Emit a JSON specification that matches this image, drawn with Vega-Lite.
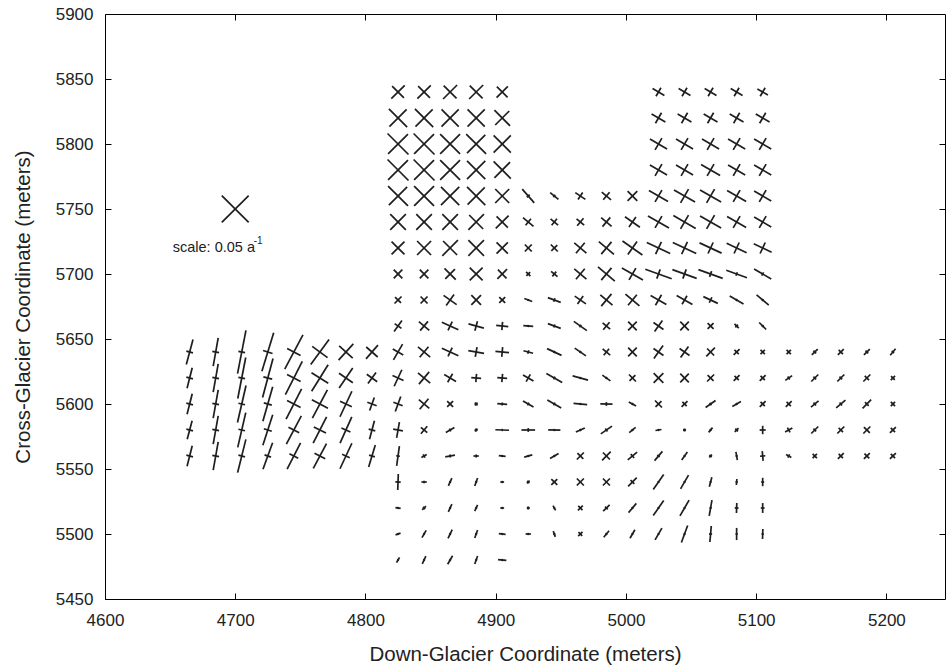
{
"$schema": "https://vega.github.io/schema/vega-lite/v6.json",
"width": 840, "height": 585,
"autosize": {"type": "none"},
"padding": {"left": 105, "top": 14, "right": 4, "bottom": 71},
"background": "white",
"config": {
  "view": {"stroke": "black", "strokeWidth": 1},
  "axis": {"labelFont": "Liberation Sans", "titleFont": "Liberation Sans", "labelFontSize": 17, "titleFontSize": 20.5, "titleFontWeight": "normal", "labelColor": "#222", "titleColor": "#222", "domain": false, "tickColor": "black", "tickSize": 6, "offset": -6, "grid": false, "format": "d", "labelFlush": false, "labelOverlap": false}
},
"resolve": {"axis": {"x": "independent", "y": "independent"}},
"data": {"values": [
{"x":4700,"y":5750,"a1":45,"e1":0.05,"a2":135,"e2":0.05},
{"x":4665,"y":5640,"a1":75,"e1":0.034,"a2":165,"e2":0.009},
{"x":4685,"y":5640,"a1":80,"e1":0.038,"a2":170,"e2":0.009},
{"x":4705,"y":5640,"a1":79,"e1":0.058,"a2":169,"e2":0.009},
{"x":4725,"y":5640,"a1":73,"e1":0.053,"a2":163,"e2":0.013},
{"x":4745,"y":5640,"a1":62,"e1":0.051,"a2":152,"e2":0.020},
{"x":4765,"y":5640,"a1":54,"e1":0.041,"a2":144,"e2":0.025},
{"x":4785,"y":5640,"a1":48,"e1":0.029,"a2":138,"e2":0.024},
{"x":4805,"y":5640,"a1":49,"e1":0.024,"a2":139,"e2":0.020},
{"x":4665,"y":5620,"a1":76,"e1":0.028,"a2":166,"e2":0.009},
{"x":4685,"y":5620,"a1":80,"e1":0.038,"a2":170,"e2":0.009},
{"x":4705,"y":5620,"a1":79,"e1":0.055,"a2":169,"e2":0.009},
{"x":4725,"y":5620,"a1":75,"e1":0.053,"a2":165,"e2":0.012},
{"x":4745,"y":5620,"a1":63,"e1":0.049,"a2":153,"e2":0.020},
{"x":4765,"y":5620,"a1":58,"e1":0.041,"a2":148,"e2":0.026},
{"x":4785,"y":5620,"a1":56,"e1":0.032,"a2":146,"e2":0.022},
{"x":4805,"y":5620,"a1":54,"e1":0.018,"a2":144,"e2":0.017},
{"x":4665,"y":5600,"a1":76,"e1":0.028,"a2":166,"e2":0.009},
{"x":4685,"y":5600,"a1":80,"e1":0.038,"a2":170,"e2":0.009},
{"x":4705,"y":5600,"a1":77,"e1":0.050,"a2":167,"e2":0.009},
{"x":4725,"y":5600,"a1":74,"e1":0.047,"a2":164,"e2":0.011},
{"x":4745,"y":5600,"a1":63,"e1":0.045,"a2":153,"e2":0.020},
{"x":4765,"y":5600,"a1":62,"e1":0.042,"a2":152,"e2":0.024},
{"x":4785,"y":5600,"a1":65,"e1":0.037,"a2":155,"e2":0.017},
{"x":4805,"y":5600,"a1":70,"e1":0.018,"a2":160,"e2":0.013},
{"x":4665,"y":5580,"a1":75,"e1":0.025,"a2":165,"e2":0.009},
{"x":4685,"y":5580,"a1":80,"e1":0.038,"a2":170,"e2":0.009},
{"x":4705,"y":5580,"a1":77,"e1":0.047,"a2":167,"e2":0.009},
{"x":4725,"y":5580,"a1":72,"e1":0.042,"a2":162,"e2":0.011},
{"x":4745,"y":5580,"a1":62,"e1":0.042,"a2":152,"e2":0.016},
{"x":4765,"y":5580,"a1":63,"e1":0.039,"a2":153,"e2":0.018},
{"x":4785,"y":5580,"a1":66,"e1":0.038,"a2":156,"e2":0.013},
{"x":4805,"y":5580,"a1":75,"e1":0.025,"a2":165,"e2":0.009},
{"x":4665,"y":5560,"a1":76,"e1":0.028,"a2":166,"e2":0.009},
{"x":4685,"y":5560,"a1":80,"e1":0.038,"a2":170,"e2":0.009},
{"x":4705,"y":5560,"a1":76,"e1":0.045,"a2":166,"e2":0.009},
{"x":4725,"y":5560,"a1":70,"e1":0.037,"a2":160,"e2":0.009},
{"x":4745,"y":5560,"a1":63,"e1":0.039,"a2":153,"e2":0.013},
{"x":4765,"y":5560,"a1":62,"e1":0.037,"a2":152,"e2":0.016},
{"x":4785,"y":5560,"a1":65,"e1":0.037,"a2":155,"e2":0.011},
{"x":4805,"y":5560,"a1":73,"e1":0.030,"a2":163,"e2":0.008},
{"x":4825,"y":5840,"a1":45,"e1":0.025,"a2":135,"e2":0.022},
{"x":4845,"y":5840,"a1":45,"e1":0.025,"a2":135,"e2":0.022},
{"x":4865,"y":5840,"a1":45,"e1":0.026,"a2":135,"e2":0.024},
{"x":4885,"y":5840,"a1":45,"e1":0.026,"a2":135,"e2":0.024},
{"x":4905,"y":5840,"a1":45,"e1":0.021,"a2":135,"e2":0.020},
{"x":4825,"y":5820,"a1":45,"e1":0.032,"a2":135,"e2":0.034},
{"x":4845,"y":5820,"a1":45,"e1":0.032,"a2":135,"e2":0.034},
{"x":4865,"y":5820,"a1":45,"e1":0.032,"a2":135,"e2":0.032},
{"x":4885,"y":5820,"a1":45,"e1":0.032,"a2":135,"e2":0.032},
{"x":4905,"y":5820,"a1":45,"e1":0.026,"a2":135,"e2":0.029},
{"x":4825,"y":5800,"a1":45,"e1":0.037,"a2":135,"e2":0.039},
{"x":4845,"y":5800,"a1":45,"e1":0.037,"a2":135,"e2":0.039},
{"x":4865,"y":5800,"a1":45,"e1":0.037,"a2":135,"e2":0.037},
{"x":4885,"y":5800,"a1":45,"e1":0.034,"a2":135,"e2":0.037},
{"x":4905,"y":5800,"a1":45,"e1":0.032,"a2":135,"e2":0.032},
{"x":4825,"y":5780,"a1":45,"e1":0.037,"a2":135,"e2":0.039},
{"x":4845,"y":5780,"a1":45,"e1":0.037,"a2":135,"e2":0.039},
{"x":4865,"y":5780,"a1":45,"e1":0.037,"a2":135,"e2":0.037},
{"x":4885,"y":5780,"a1":45,"e1":0.034,"a2":135,"e2":0.034},
{"x":4905,"y":5780,"a1":45,"e1":0.029,"a2":135,"e2":0.032},
{"x":4825,"y":5760,"a1":45,"e1":0.034,"a2":135,"e2":0.037},
{"x":4845,"y":5760,"a1":45,"e1":0.037,"a2":135,"e2":0.037},
{"x":4865,"y":5760,"a1":45,"e1":0.034,"a2":135,"e2":0.034},
{"x":4885,"y":5760,"a1":45,"e1":0.032,"a2":135,"e2":0.034},
{"x":4905,"y":5760,"a1":45,"e1":0.026,"a2":135,"e2":0.026},
{"x":4825,"y":5740,"a1":45,"e1":0.029,"a2":135,"e2":0.029},
{"x":4845,"y":5740,"a1":45,"e1":0.029,"a2":135,"e2":0.029},
{"x":4865,"y":5740,"a1":45,"e1":0.029,"a2":135,"e2":0.029},
{"x":4885,"y":5740,"a1":45,"e1":0.029,"a2":135,"e2":0.026},
{"x":4905,"y":5740,"a1":45,"e1":0.024,"a2":135,"e2":0.021},
{"x":4825,"y":5720,"a1":45,"e1":0.024,"a2":135,"e2":0.024},
{"x":4845,"y":5720,"a1":45,"e1":0.026,"a2":135,"e2":0.026},
{"x":4865,"y":5720,"a1":45,"e1":0.029,"a2":135,"e2":0.026},
{"x":4885,"y":5720,"a1":45,"e1":0.029,"a2":135,"e2":0.029},
{"x":4905,"y":5720,"a1":45,"e1":0.021,"a2":135,"e2":0.021},
{"x":4825,"y":5700,"a1":45,"e1":0.016,"a2":135,"e2":0.016},
{"x":4845,"y":5700,"a1":45,"e1":0.016,"a2":135,"e2":0.016},
{"x":4865,"y":5700,"a1":45,"e1":0.018,"a2":135,"e2":0.021},
{"x":4885,"y":5700,"a1":45,"e1":0.024,"a2":135,"e2":0.024},
{"x":4905,"y":5700,"a1":45,"e1":0.018,"a2":135,"e2":0.016},
{"x":4825,"y":5680,"a1":45,"e1":0.013,"a2":135,"e2":0.011},
{"x":4845,"y":5680,"a1":45,"e1":0.013,"a2":135,"e2":0.013},
{"x":4865,"y":5680,"a1":55,"e1":0.018,"a2":145,"e2":0.021},
{"x":4885,"y":5680,"a1":45,"e1":0.018,"a2":135,"e2":0.018},
{"x":4905,"y":5680,"a1":45,"e1":0.011,"a2":135,"e2":0.011},
{"x":4825,"y":5660,"a1":55,"e1":0.018,"a2":145,"e2":0.011},
{"x":4845,"y":5660,"a1":50,"e1":0.016,"a2":140,"e2":0.018},
{"x":4865,"y":5660,"a1":65,"e1":0.013,"a2":155,"e2":0.024},
{"x":4885,"y":5660,"a1":75,"e1":0.013,"a2":165,"e2":0.021},
{"x":4905,"y":5660,"a1":85,"e1":0.011,"a2":175,"e2":0.016},
{"x":4825,"y":5640,"a1":60,"e1":0.024,"a2":150,"e2":0.016},
{"x":4845,"y":5640,"a1":50,"e1":0.018,"a2":140,"e2":0.021},
{"x":4865,"y":5640,"a1":65,"e1":0.013,"a2":155,"e2":0.024},
{"x":4885,"y":5640,"a1":80,"e1":0.013,"a2":170,"e2":0.021},
{"x":4905,"y":5640,"a1":85,"e1":0.013,"a2":175,"e2":0.018},
{"x":4825,"y":5620,"a1":65,"e1":0.024,"a2":155,"e2":0.016},
{"x":4845,"y":5620,"a1":50,"e1":0.021,"a2":140,"e2":0.021},
{"x":4865,"y":5620,"a1":60,"e1":0.013,"a2":150,"e2":0.018},
{"x":4885,"y":5620,"a1":85,"e1":0.011,"a2":175,"e2":0.013},
{"x":4905,"y":5620,"a1":85,"e1":0.011,"a2":175,"e2":0.013},
{"x":4825,"y":5600,"a1":70,"e1":0.021,"a2":160,"e2":0.013},
{"x":4845,"y":5600,"a1":50,"e1":0.018,"a2":140,"e2":0.018},
{"x":4865,"y":5600,"a1":45,"e1":0.011,"a2":135,"e2":0.011},
{"x":4885,"y":5600,"a1":45,"e1":0.005,"a2":135,"e2":0.005},
{"x":4905,"y":5600,"a1":85,"e1":0.004,"a2":175,"e2":0.013},
{"x":4825,"y":5580,"a1":80,"e1":0.021,"a2":170,"e2":0.013},
{"x":4845,"y":5580,"a1":50,"e1":0.013,"a2":140,"e2":0.011},
{"x":4865,"y":5580,"a1":30,"e1":0.013,"a2":120,"e2":0.004},
{"x":4885,"y":5580,"a1":45,"e1":0.005,"a2":135,"e2":0.004},
{"x":4905,"y":5580,"a1":88,"e1":0.003,"a2":178,"e2":0.018},
{"x":4825,"y":5560,"a1":82,"e1":0.026,"a2":172,"e2":0.005},
{"x":4845,"y":5560,"a1":30,"e1":0.008,"a2":120,"e2":0.005},
{"x":4865,"y":5560,"a1":10,"e1":0.013,"a2":100,"e2":0.004},
{"x":4885,"y":5560,"a1":0,"e1":0.007,"a2":90,"e2":0.004},
{"x":4905,"y":5560,"a1":175,"e1":0.009,"a2":85,"e2":0.003},
{"x":4825,"y":5540,"a1":88,"e1":0.021,"a2":178,"e2":0.007},
{"x":4845,"y":5540,"a1":0,"e1":0.007,"a2":90,"e2":0.003},
{"x":4865,"y":5540,"a1":65,"e1":0.011,"a2":155,"e2":0.003},
{"x":4885,"y":5540,"a1":70,"e1":0.011,"a2":160,"e2":0.003},
{"x":4905,"y":5540,"a1":0,"e1":0.005,"a2":90,"e2":0.003},
{"x":4825,"y":5520,"a1":170,"e1":0.007,"a2":80,"e2":0.003},
{"x":4845,"y":5520,"a1":45,"e1":0.007,"a2":135,"e2":0.004},
{"x":4865,"y":5520,"a1":65,"e1":0.011,"a2":155,"e2":0.003},
{"x":4885,"y":5520,"a1":65,"e1":0.009,"a2":155,"e2":0.003},
{"x":4905,"y":5520,"a1":0,"e1":0.005,"a2":90,"e2":0.003},
{"x":4825,"y":5500,"a1":20,"e1":0.007,"a2":110,"e2":0.003},
{"x":4845,"y":5500,"a1":60,"e1":0.011,"a2":150,"e2":0.003},
{"x":4865,"y":5500,"a1":65,"e1":0.013,"a2":155,"e2":0.003},
{"x":4885,"y":5500,"a1":70,"e1":0.011,"a2":160,"e2":0.003},
{"x":4905,"y":5500,"a1":175,"e1":0.009,"a2":85,"e2":0.003},
{"x":4825,"y":5480,"a1":60,"e1":0.008,"a2":150,"e2":0.003},
{"x":4845,"y":5480,"a1":65,"e1":0.011,"a2":155,"e2":0.003},
{"x":4865,"y":5480,"a1":60,"e1":0.013,"a2":150,"e2":0.003},
{"x":4885,"y":5480,"a1":70,"e1":0.011,"a2":160,"e2":0.003},
{"x":4905,"y":5480,"a1":175,"e1":0.011,"a2":85,"e2":0.003},
{"x":4925,"y":5760,"a1":131,"e1":0.024,"a2":41,"e2":0.005},
{"x":4945,"y":5760,"a1":141,"e1":0.014,"a2":51,"e2":0.004},
{"x":4965,"y":5760,"a1":146,"e1":0.016,"a2":56,"e2":0.011},
{"x":4985,"y":5760,"a1":140,"e1":0.016,"a2":50,"e2":0.013},
{"x":5005,"y":5760,"a1":135,"e1":0.018,"a2":45,"e2":0.018},
{"x":4925,"y":5740,"a1":140,"e1":0.018,"a2":50,"e2":0.011},
{"x":4945,"y":5740,"a1":140,"e1":0.013,"a2":50,"e2":0.011},
{"x":4965,"y":5740,"a1":140,"e1":0.013,"a2":50,"e2":0.013},
{"x":4985,"y":5740,"a1":140,"e1":0.018,"a2":50,"e2":0.016},
{"x":5005,"y":5740,"a1":145,"e1":0.024,"a2":55,"e2":0.016},
{"x":4925,"y":5720,"a1":135,"e1":0.013,"a2":45,"e2":0.013},
{"x":4945,"y":5720,"a1":135,"e1":0.013,"a2":45,"e2":0.011},
{"x":4965,"y":5720,"a1":140,"e1":0.021,"a2":50,"e2":0.018},
{"x":4985,"y":5720,"a1":140,"e1":0.026,"a2":50,"e2":0.021},
{"x":5005,"y":5720,"a1":145,"e1":0.032,"a2":55,"e2":0.021},
{"x":4925,"y":5700,"a1":135,"e1":0.008,"a2":45,"e2":0.007},
{"x":4945,"y":5700,"a1":140,"e1":0.011,"a2":50,"e2":0.008},
{"x":4965,"y":5700,"a1":140,"e1":0.021,"a2":50,"e2":0.018},
{"x":4985,"y":5700,"a1":140,"e1":0.029,"a2":50,"e2":0.021},
{"x":5005,"y":5700,"a1":150,"e1":0.032,"a2":60,"e2":0.018},
{"x":4925,"y":5680,"a1":160,"e1":0.011,"a2":70,"e2":0.003},
{"x":4945,"y":5680,"a1":160,"e1":0.018,"a2":70,"e2":0.005},
{"x":4965,"y":5680,"a1":145,"e1":0.018,"a2":55,"e2":0.013},
{"x":4985,"y":5680,"a1":140,"e1":0.021,"a2":50,"e2":0.021},
{"x":5005,"y":5680,"a1":140,"e1":0.024,"a2":50,"e2":0.018},
{"x":4925,"y":5660,"a1":175,"e1":0.013,"a2":85,"e2":0.003},
{"x":4945,"y":5660,"a1":160,"e1":0.018,"a2":70,"e2":0.004},
{"x":4965,"y":5660,"a1":145,"e1":0.021,"a2":55,"e2":0.004},
{"x":4985,"y":5660,"a1":140,"e1":0.013,"a2":50,"e2":0.013},
{"x":5005,"y":5660,"a1":135,"e1":0.016,"a2":45,"e2":0.016},
{"x":4925,"y":5640,"a1":165,"e1":0.013,"a2":75,"e2":0.005},
{"x":4945,"y":5640,"a1":155,"e1":0.021,"a2":65,"e2":0.003},
{"x":4965,"y":5640,"a1":145,"e1":0.018,"a2":55,"e2":0.003},
{"x":4985,"y":5640,"a1":140,"e1":0.013,"a2":50,"e2":0.011},
{"x":5005,"y":5640,"a1":135,"e1":0.016,"a2":45,"e2":0.016},
{"x":4925,"y":5620,"a1":150,"e1":0.016,"a2":60,"e2":0.011},
{"x":4945,"y":5620,"a1":150,"e1":0.024,"a2":60,"e2":0.004},
{"x":4965,"y":5620,"a1":165,"e1":0.021,"a2":75,"e2":0.003},
{"x":4985,"y":5620,"a1":145,"e1":0.013,"a2":55,"e2":0.003},
{"x":5005,"y":5620,"a1":135,"e1":0.013,"a2":45,"e2":0.011},
{"x":4925,"y":5600,"a1":150,"e1":0.016,"a2":60,"e2":0.004},
{"x":4945,"y":5600,"a1":150,"e1":0.021,"a2":60,"e2":0.004},
{"x":4965,"y":5600,"a1":175,"e1":0.018,"a2":85,"e2":0.003},
{"x":4985,"y":5600,"a1":178,"e1":0.016,"a2":88,"e2":0.005},
{"x":5005,"y":5600,"a1":150,"e1":0.011,"a2":60,"e2":0.003},
{"x":4925,"y":5580,"a1":180,"e1":0.018,"a2":90,"e2":0.005},
{"x":4945,"y":5580,"a1":178,"e1":0.016,"a2":88,"e2":0.003},
{"x":4965,"y":5580,"a1":25,"e1":0.013,"a2":115,"e2":0.003},
{"x":4985,"y":5580,"a1":35,"e1":0.018,"a2":125,"e2":0.005},
{"x":5005,"y":5580,"a1":40,"e1":0.011,"a2":130,"e2":0.003},
{"x":4925,"y":5560,"a1":15,"e1":0.011,"a2":105,"e2":0.003},
{"x":4945,"y":5560,"a1":30,"e1":0.013,"a2":120,"e2":0.003},
{"x":4965,"y":5560,"a1":45,"e1":0.013,"a2":135,"e2":0.011},
{"x":4985,"y":5560,"a1":45,"e1":0.016,"a2":135,"e2":0.013},
{"x":5005,"y":5560,"a1":40,"e1":0.016,"a2":130,"e2":0.007},
{"x":4925,"y":5540,"a1":45,"e1":0.005,"a2":135,"e2":0.004},
{"x":4945,"y":5540,"a1":45,"e1":0.011,"a2":135,"e2":0.011},
{"x":4965,"y":5540,"a1":45,"e1":0.013,"a2":135,"e2":0.013},
{"x":4985,"y":5540,"a1":45,"e1":0.013,"a2":135,"e2":0.013},
{"x":5005,"y":5540,"a1":45,"e1":0.016,"a2":135,"e2":0.007},
{"x":4925,"y":5520,"a1":45,"e1":0.004,"a2":135,"e2":0.004},
{"x":4945,"y":5520,"a1":120,"e1":0.007,"a2":30,"e2":0.003},
{"x":4965,"y":5520,"a1":45,"e1":0.009,"a2":135,"e2":0.008},
{"x":4985,"y":5520,"a1":45,"e1":0.012,"a2":135,"e2":0.005},
{"x":5005,"y":5520,"a1":50,"e1":0.016,"a2":140,"e2":0.003},
{"x":4925,"y":5500,"a1":0,"e1":0.007,"a2":90,"e2":0.003},
{"x":4945,"y":5500,"a1":110,"e1":0.008,"a2":20,"e2":0.003},
{"x":4965,"y":5500,"a1":45,"e1":0.008,"a2":135,"e2":0.007},
{"x":4985,"y":5500,"a1":50,"e1":0.011,"a2":140,"e2":0.003},
{"x":5005,"y":5500,"a1":60,"e1":0.013,"a2":150,"e2":0.003},
{"x":5025,"y":5840,"a1":150,"e1":0.018,"a2":60,"e2":0.013},
{"x":5045,"y":5840,"a1":150,"e1":0.018,"a2":60,"e2":0.013},
{"x":5065,"y":5840,"a1":150,"e1":0.018,"a2":60,"e2":0.013},
{"x":5085,"y":5840,"a1":150,"e1":0.018,"a2":60,"e2":0.013},
{"x":5105,"y":5840,"a1":150,"e1":0.016,"a2":60,"e2":0.013},
{"x":5025,"y":5820,"a1":150,"e1":0.021,"a2":60,"e2":0.016},
{"x":5045,"y":5820,"a1":150,"e1":0.021,"a2":60,"e2":0.016},
{"x":5065,"y":5820,"a1":150,"e1":0.021,"a2":60,"e2":0.016},
{"x":5085,"y":5820,"a1":150,"e1":0.021,"a2":60,"e2":0.016},
{"x":5105,"y":5820,"a1":150,"e1":0.021,"a2":60,"e2":0.016},
{"x":5025,"y":5800,"a1":150,"e1":0.026,"a2":60,"e2":0.018},
{"x":5045,"y":5800,"a1":150,"e1":0.026,"a2":60,"e2":0.018},
{"x":5065,"y":5800,"a1":150,"e1":0.026,"a2":60,"e2":0.018},
{"x":5085,"y":5800,"a1":150,"e1":0.026,"a2":60,"e2":0.018},
{"x":5105,"y":5800,"a1":150,"e1":0.026,"a2":60,"e2":0.018},
{"x":5025,"y":5780,"a1":150,"e1":0.026,"a2":60,"e2":0.018},
{"x":5045,"y":5780,"a1":150,"e1":0.026,"a2":60,"e2":0.018},
{"x":5065,"y":5780,"a1":150,"e1":0.029,"a2":60,"e2":0.018},
{"x":5085,"y":5780,"a1":150,"e1":0.026,"a2":60,"e2":0.018},
{"x":5105,"y":5780,"a1":150,"e1":0.026,"a2":60,"e2":0.018},
{"x":5025,"y":5760,"a1":150,"e1":0.029,"a2":60,"e2":0.018},
{"x":5045,"y":5760,"a1":150,"e1":0.032,"a2":60,"e2":0.021},
{"x":5065,"y":5760,"a1":150,"e1":0.032,"a2":60,"e2":0.021},
{"x":5085,"y":5760,"a1":150,"e1":0.029,"a2":60,"e2":0.018},
{"x":5105,"y":5760,"a1":150,"e1":0.026,"a2":60,"e2":0.018},
{"x":5025,"y":5740,"a1":150,"e1":0.032,"a2":60,"e2":0.018},
{"x":5045,"y":5740,"a1":150,"e1":0.034,"a2":60,"e2":0.021},
{"x":5065,"y":5740,"a1":150,"e1":0.032,"a2":60,"e2":0.021},
{"x":5085,"y":5740,"a1":150,"e1":0.029,"a2":60,"e2":0.018},
{"x":5105,"y":5740,"a1":150,"e1":0.026,"a2":60,"e2":0.018},
{"x":5025,"y":5720,"a1":155,"e1":0.034,"a2":65,"e2":0.018},
{"x":5045,"y":5720,"a1":155,"e1":0.034,"a2":65,"e2":0.018},
{"x":5065,"y":5720,"a1":155,"e1":0.032,"a2":65,"e2":0.016},
{"x":5085,"y":5720,"a1":155,"e1":0.029,"a2":65,"e2":0.016},
{"x":5105,"y":5720,"a1":155,"e1":0.026,"a2":65,"e2":0.016},
{"x":5025,"y":5700,"a1":160,"e1":0.037,"a2":70,"e2":0.013},
{"x":5045,"y":5700,"a1":160,"e1":0.034,"a2":70,"e2":0.013},
{"x":5065,"y":5700,"a1":160,"e1":0.034,"a2":70,"e2":0.008},
{"x":5085,"y":5700,"a1":160,"e1":0.029,"a2":70,"e2":0.005},
{"x":5105,"y":5700,"a1":150,"e1":0.026,"a2":60,"e2":0.005},
{"x":5025,"y":5680,"a1":150,"e1":0.024,"a2":60,"e2":0.016},
{"x":5045,"y":5680,"a1":150,"e1":0.024,"a2":60,"e2":0.013},
{"x":5065,"y":5680,"a1":155,"e1":0.021,"a2":65,"e2":0.008},
{"x":5085,"y":5680,"a1":150,"e1":0.021,"a2":60,"e2":0.003},
{"x":5105,"y":5680,"a1":140,"e1":0.021,"a2":50,"e2":0.003},
{"x":5025,"y":5660,"a1":55,"e1":0.018,"a2":145,"e2":0.016},
{"x":5045,"y":5660,"a1":45,"e1":0.016,"a2":135,"e2":0.016},
{"x":5065,"y":5660,"a1":45,"e1":0.011,"a2":135,"e2":0.011},
{"x":5085,"y":5660,"a1":135,"e1":0.008,"a2":45,"e2":0.005},
{"x":5105,"y":5660,"a1":135,"e1":0.013,"a2":45,"e2":0.003},
{"x":5025,"y":5640,"a1":55,"e1":0.021,"a2":145,"e2":0.016},
{"x":5045,"y":5640,"a1":55,"e1":0.018,"a2":145,"e2":0.016},
{"x":5065,"y":5640,"a1":45,"e1":0.016,"a2":135,"e2":0.013},
{"x":5085,"y":5640,"a1":45,"e1":0.011,"a2":135,"e2":0.008},
{"x":5105,"y":5640,"a1":45,"e1":0.008,"a2":135,"e2":0.008},
{"x":5025,"y":5620,"a1":45,"e1":0.018,"a2":135,"e2":0.018},
{"x":5045,"y":5620,"a1":45,"e1":0.016,"a2":135,"e2":0.016},
{"x":5065,"y":5620,"a1":45,"e1":0.013,"a2":135,"e2":0.011},
{"x":5085,"y":5620,"a1":45,"e1":0.011,"a2":135,"e2":0.008},
{"x":5105,"y":5620,"a1":45,"e1":0.011,"a2":135,"e2":0.008},
{"x":5025,"y":5600,"a1":135,"e1":0.013,"a2":45,"e2":0.011},
{"x":5045,"y":5600,"a1":45,"e1":0.011,"a2":135,"e2":0.008},
{"x":5065,"y":5600,"a1":35,"e1":0.016,"a2":125,"e2":0.004},
{"x":5085,"y":5600,"a1":30,"e1":0.013,"a2":120,"e2":0.003},
{"x":5105,"y":5600,"a1":45,"e1":0.011,"a2":135,"e2":0.008},
{"x":5025,"y":5580,"a1":10,"e1":0.008,"a2":100,"e2":0.003},
{"x":5045,"y":5580,"a1":45,"e1":0.004,"a2":135,"e2":0.004},
{"x":5065,"y":5580,"a1":50,"e1":0.008,"a2":140,"e2":0.003},
{"x":5085,"y":5580,"a1":45,"e1":0.007,"a2":135,"e2":0.005},
{"x":5105,"y":5580,"a1":90,"e1":0.011,"a2":0,"e2":0.008},
{"x":5025,"y":5560,"a1":50,"e1":0.016,"a2":140,"e2":0.004},
{"x":5045,"y":5560,"a1":55,"e1":0.013,"a2":145,"e2":0.003},
{"x":5065,"y":5560,"a1":45,"e1":0.005,"a2":135,"e2":0.004},
{"x":5085,"y":5560,"a1":100,"e1":0.011,"a2":10,"e2":0.003},
{"x":5105,"y":5560,"a1":95,"e1":0.013,"a2":5,"e2":0.007},
{"x":5025,"y":5540,"a1":55,"e1":0.024,"a2":145,"e2":0.003},
{"x":5045,"y":5540,"a1":60,"e1":0.021,"a2":150,"e2":0.003},
{"x":5065,"y":5540,"a1":75,"e1":0.013,"a2":165,"e2":0.003},
{"x":5085,"y":5540,"a1":85,"e1":0.008,"a2":175,"e2":0.003},
{"x":5105,"y":5540,"a1":90,"e1":0.011,"a2":0,"e2":0.004},
{"x":5025,"y":5520,"a1":55,"e1":0.024,"a2":145,"e2":0.003},
{"x":5045,"y":5520,"a1":60,"e1":0.024,"a2":150,"e2":0.003},
{"x":5065,"y":5520,"a1":80,"e1":0.021,"a2":170,"e2":0.003},
{"x":5085,"y":5520,"a1":88,"e1":0.013,"a2":178,"e2":0.005},
{"x":5105,"y":5520,"a1":90,"e1":0.013,"a2":0,"e2":0.005},
{"x":5025,"y":5500,"a1":60,"e1":0.018,"a2":150,"e2":0.003},
{"x":5045,"y":5500,"a1":70,"e1":0.024,"a2":160,"e2":0.003},
{"x":5065,"y":5500,"a1":85,"e1":0.021,"a2":175,"e2":0.004},
{"x":5085,"y":5500,"a1":90,"e1":0.016,"a2":0,"e2":0.003},
{"x":5105,"y":5500,"a1":88,"e1":0.013,"a2":178,"e2":0.003},
{"x":5125,"y":5640,"a1":45,"e1":0.008,"a2":135,"e2":0.008},
{"x":5145,"y":5640,"a1":45,"e1":0.011,"a2":135,"e2":0.005},
{"x":5165,"y":5640,"a1":45,"e1":0.011,"a2":135,"e2":0.008},
{"x":5185,"y":5640,"a1":45,"e1":0.011,"a2":135,"e2":0.005},
{"x":5205,"y":5640,"a1":50,"e1":0.011,"a2":140,"e2":0.004},
{"x":5125,"y":5620,"a1":35,"e1":0.011,"a2":125,"e2":0.005},
{"x":5145,"y":5620,"a1":45,"e1":0.013,"a2":135,"e2":0.005},
{"x":5165,"y":5620,"a1":45,"e1":0.013,"a2":135,"e2":0.005},
{"x":5185,"y":5620,"a1":45,"e1":0.013,"a2":135,"e2":0.008},
{"x":5205,"y":5620,"a1":45,"e1":0.008,"a2":135,"e2":0.007},
{"x":5125,"y":5600,"a1":45,"e1":0.011,"a2":135,"e2":0.008},
{"x":5145,"y":5600,"a1":40,"e1":0.013,"a2":130,"e2":0.005},
{"x":5165,"y":5600,"a1":40,"e1":0.016,"a2":130,"e2":0.005},
{"x":5185,"y":5600,"a1":45,"e1":0.016,"a2":135,"e2":0.007},
{"x":5205,"y":5600,"a1":45,"e1":0.008,"a2":135,"e2":0.008},
{"x":5125,"y":5580,"a1":30,"e1":0.011,"a2":120,"e2":0.007},
{"x":5145,"y":5580,"a1":45,"e1":0.013,"a2":135,"e2":0.005},
{"x":5165,"y":5580,"a1":45,"e1":0.013,"a2":135,"e2":0.008},
{"x":5185,"y":5580,"a1":45,"e1":0.013,"a2":135,"e2":0.011},
{"x":5205,"y":5580,"a1":45,"e1":0.011,"a2":135,"e2":0.008},
{"x":5125,"y":5560,"a1":150,"e1":0.008,"a2":60,"e2":0.005},
{"x":5145,"y":5560,"a1":45,"e1":0.008,"a2":135,"e2":0.008},
{"x":5165,"y":5560,"a1":45,"e1":0.011,"a2":135,"e2":0.008},
{"x":5185,"y":5560,"a1":45,"e1":0.011,"a2":135,"e2":0.009},
{"x":5205,"y":5560,"a1":45,"e1":0.011,"a2":135,"e2":0.008}
]},
"layer": [
  {
    "mark": {"type": "point", "shape": "stroke", "strokeWidth": 1.7, "color": "#1e1e1e", "opacity": 1},
    "encoding": {
      "x": {"field": "x", "type": "quantitative", "scale": {"domain": [4600, 5245], "nice": false, "zero": false},
            "axis": {"orient": "bottom", "values": [4600, 4700, 4800, 4900, 5000, 5100, 5200], "title": "Down-Glacier Coordinate (meters)", "labelPadding": 13, "titlePadding": 16}},
      "y": {"field": "y", "type": "quantitative", "scale": {"domain": [5450, 5900], "nice": false, "zero": false},
            "axis": {"orient": "left", "values": [5450, 5500, 5550, 5600, 5650, 5700, 5750, 5800, 5850, 5900], "title": "Cross-Glacier Coordinate (meters)", "labelPadding": 12, "titlePadding": 22}},
      "angle": {"field": "a1", "type": "quantitative", "scale": {"domain": [0, 180], "range": [0, -180]}},
      "size": {"field": "e1", "type": "quantitative", "scale": {"type": "pow", "exponent": 2, "domain": [0, 0.05], "range": [0, 1444], "clamp": false}, "legend": null}
    }
  },
  {
    "mark": {"type": "point", "shape": "stroke", "strokeWidth": 1.7, "color": "#1e1e1e", "opacity": 1},
    "encoding": {
      "x": {"field": "x", "type": "quantitative", "scale": {"domain": [4600, 5245], "nice": false, "zero": false},
            "axis": {"orient": "top", "values": [4700, 4800, 4900, 5000, 5100, 5200], "labels": false, "title": null}},
      "y": {"field": "y", "type": "quantitative", "scale": {"domain": [5450, 5900], "nice": false, "zero": false},
            "axis": {"orient": "right", "values": [5500, 5550, 5600, 5650, 5700, 5750, 5800, 5850], "labels": false, "title": null}},
      "angle": {"field": "a2", "type": "quantitative", "scale": {"domain": [0, 180], "range": [0, -180]}},
      "size": {"field": "e2", "type": "quantitative", "scale": {"type": "pow", "exponent": 2, "domain": [0, 0.05], "range": [0, 1444], "clamp": false}, "legend": null}
    }
  },
  {
    "data": {"values": [{"x": 4652, "y": 5720, "label": "scale: 0.05 a", "sup": "-1"}]},
    "layer": [
      {"mark": {"type": "text", "font": "Liberation Sans", "fontSize": 14.5, "align": "left", "baseline": "middle", "color": "#222"},
       "encoding": {"x": {"field": "x", "type": "quantitative", "axis": null}, "y": {"field": "y", "type": "quantitative", "axis": null}, "text": {"field": "label"}}},
      {"mark": {"type": "text", "font": "Liberation Sans", "fontSize": 10, "align": "left", "baseline": "middle", "color": "#222", "dx": 81, "dy": -7},
       "encoding": {"x": {"field": "x", "type": "quantitative", "axis": null}, "y": {"field": "y", "type": "quantitative", "axis": null}, "text": {"field": "sup"}}}
    ]
  }
]
}
